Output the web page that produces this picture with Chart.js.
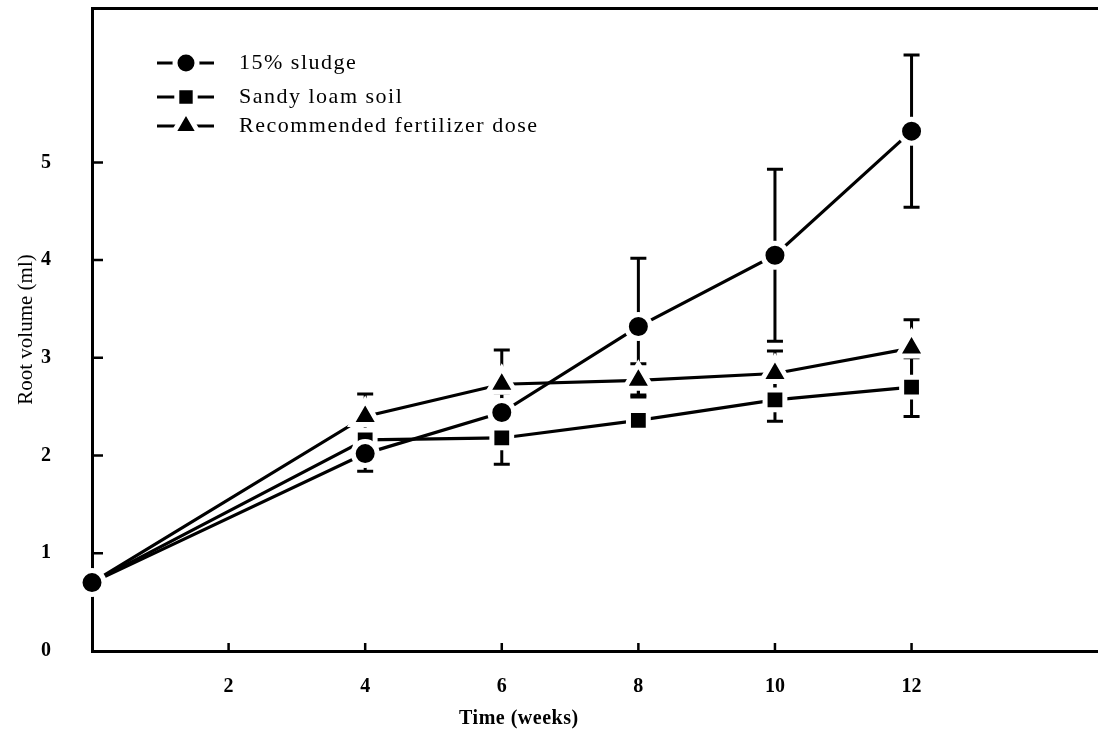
<!DOCTYPE html>
<html>
<head>
<meta charset="utf-8">
<script src="https://cdn.jsdelivr.net/npm/chart.js@4.4.1/dist/chart.umd.min.js"></script>
<style>
  html, body { margin: 0; padding: 0; background: #fff; }
  #marco { width: 1098px; height: 736px; }
</style>
</head>
<body>
<div id="marco"><canvas id="grafico"></canvas></div>
<script>
// Tiempo (semanas) de cada muestreo
const semanas = [0, 4, 6, 8, 10, 12];
const ticksX = [2, 4, 6, 8, 10, 12];
const ticksY = [0, 1, 2, 3, 4, 5];

// Volumen de raiz (ml), con su error
const lodo = [0.7, 2.02, 2.44, 3.32, 4.05, 5.32];
const lodoErr = [0, 0.18, 0.2, 0.7, 0.88, 0.78];
const arenoso = [0.7, 2.16, 2.18, 2.36, 2.57, 2.7];
const arenosoErr = [0, 0.1, 0.27, 0.1, 0.22, 0.3];
const fertilizante = [0.7, 2.4, 2.73, 2.77, 2.84, 3.1];
const fertilizanteErr = [0, 0.23, 0.35, 0.17, 0.23, 0.29];

const nombres = ['15% sludge', 'Sandy loam soil', 'Recommended fertilizer dose'];
const series = [lodo, arenoso, fertilizante];
const errores = [lodoErr, arenosoErr, fertilizanteErr];
const marcadores = ['circle', 'rect', 'triangle'];
const radios = [12, 14, 16];

const SERIF = "'Liberation Serif', 'DejaVu Serif', serif";

// Barras de error (se dibujan antes que los puntos, para que el borde blanco las corte)
const barrasError = {
  id: 'barrasError',
  beforeDatasetsDraw(chart) {
    const { ctx, scales } = chart;
    ctx.save();
    ctx.strokeStyle = '#000';
    ctx.lineWidth = 3;
    series.forEach((serie, i) => {
      serie.forEach((v, j) => {
        const e = errores[i][j];
        if (!e) return;
        const x = scales.x.getPixelForValue(semanas[j]);
        const y1 = scales.y.getPixelForValue(v + e);
        const y2 = scales.y.getPixelForValue(v - e);
        ctx.beginPath();
        ctx.moveTo(x, y1); ctx.lineTo(x, y2);
        ctx.moveTo(x - 8, y1); ctx.lineTo(x + 8, y1);
        ctx.moveTo(x - 8, y2); ctx.lineTo(x + 8, y2);
        ctx.stroke();
      });
    });
    ctx.restore();
  }
};

// Marcas de los ejes hacia dentro, leyenda y titulo del eje x
const decorado = {
  id: 'decorado',
  afterDraw(chart) {
    const { ctx, chartArea, scales } = chart;
    ctx.save();
    ctx.strokeStyle = '#000';
    ctx.lineWidth = 2.5;
    ctx.beginPath();
    ticksY.forEach(v => {
      if (v === 0) return;
      const y = scales.y.getPixelForValue(v);
      ctx.moveTo(chartArea.left, y);
      ctx.lineTo(chartArea.left + 11, y);
    });
    ticksX.forEach(v => {
      const x = scales.x.getPixelForValue(v);
      ctx.moveTo(x, chartArea.bottom);
      ctx.lineTo(x, chartArea.bottom - 8);
    });
    ctx.stroke();

    // leyenda
    const filas = [63, 97, 126];
    nombres.forEach((nombre, i) => {
      const y = filas[i];
      ctx.beginPath();
      ctx.lineWidth = 3;
      ctx.moveTo(157, y);
      ctx.lineTo(214, y);
      ctx.stroke();
      ctx.fillStyle = '#000';
      ctx.strokeStyle = '#fff';
      ctx.lineWidth = 5;
      Chart.helpers.drawPoint(ctx, { pointStyle: marcadores[i], radius: radios[i] - 1, rotation: 0, borderWidth: 5 }, 186, y);
      ctx.strokeStyle = '#000';
      ctx.font = '22px ' + SERIF;
      ctx.letterSpacing = '1.5px';
      ctx.textBaseline = 'middle';
      ctx.textAlign = 'left';
      ctx.fillText(nombre, 239, y);
    });

    // titulo del eje x
    ctx.letterSpacing = '0.5px';
    ctx.font = 'bold 20px ' + SERIF;
    ctx.textAlign = 'center';
    ctx.textBaseline = 'middle';
    ctx.fillText('Time (weeks)', scales.x.getPixelForValue(6.25), 719);
    ctx.restore();
  }
};

const datasets = series.map((serie, i) => ({
  label: nombres[i],
  data: semanas.map((t, j) => ({ x: t, y: serie[j] })),
  borderColor: '#000',
  borderWidth: 3.2,
  tension: 0,
  pointStyle: marcadores[i],
  pointRadius: c => (i > 0 && c.dataIndex === 0) ? 0 : radios[i],
  pointBackgroundColor: '#000',
  pointBorderColor: '#fff',
  pointBorderWidth: 5,
  clip: false
}));

new Chart(document.getElementById('grafico'), {
  type: 'line',
  data: { datasets },
  plugins: [barrasError, decorado],
  options: {
    responsive: true,
    maintainAspectRatio: false,
    animation: false,
    events: [],
    layout: { padding: 0, autoPadding: false },
    plugins: { legend: { display: false }, tooltip: { enabled: false } },
    scales: {
      x: {
        type: 'linear',
        position: 'bottom',
        min: 0,
        max: 14.73,
        afterBuildTicks: s => { s.ticks = ticksX.map(v => ({ value: v })); },
        afterFit: s => { s.height = 85; s.paddingLeft = 0; s.paddingRight = 0; },
        ticks: {
          color: '#000',
          padding: 16,
          maxRotation: 0,
          font: { family: SERIF, size: 20, weight: 'bold' }
        },
        grid: { display: false },
        border: { display: true, color: '#000', width: 3 }
      },
      x2: {
        type: 'linear',
        position: 'top',
        min: 0,
        max: 14.73,
        afterFit: s => { s.height = 8; },
        ticks: { display: false },
        grid: { display: false },
        border: { display: true, color: '#000', width: 3 }
      },
      y: {
        type: 'linear',
        min: 0,
        max: 6.58,
        afterBuildTicks: s => { s.ticks = ticksY.map(v => ({ value: v })); },
        afterFit: s => { s.width = 92; s.paddingTop = 0; s.paddingBottom = 0; },
        ticks: {
          color: '#000',
          padding: 33,
          font: { family: SERIF, size: 20, weight: 'bold' }
        },
        grid: { display: false },
        border: { display: true, color: '#000', width: 3 },
        title: {
          display: true,
          text: 'Root volume (ml)',
          color: '#000',
          padding: { top: 14, bottom: 0 },
          font: { family: SERIF, size: 21 }
        }
      }
    }
  }
});
</script>
</body>
</html>
